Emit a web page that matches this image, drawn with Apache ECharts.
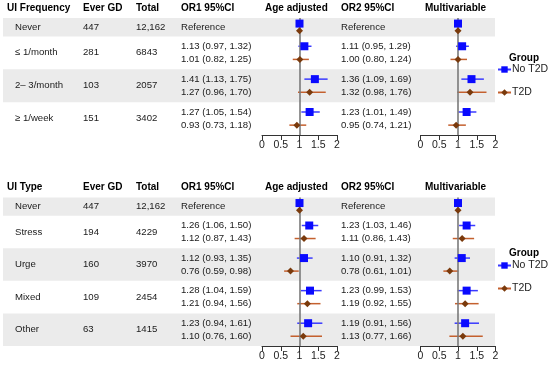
<!DOCTYPE html>
<html><head><meta charset="utf-8">
<script src="https://cdn.jsdelivr.net/npm/echarts/dist/echarts.min.js"></script>
<style>html,body{margin:0;padding:0;background:#fff}#c{width:550px;height:366px}</style>
</head><body><div id="c"></div>
<script>
// ---------- DATA ----------
const freqCats = ['Never', '≤ 1/month', '2– 3/month', '≥ 1/week'];
const freqEverGD = ['447', '281', '103', '151'];
const freqTotal = ['12,162', '6843', '2057', '3402'];
// [estimate, lower, upper]
const freqOR1NoT2D = [[1, null, null], [1.13, 0.97, 1.32], [1.41, 1.13, 1.75], [1.27, 1.05, 1.54]];
const freqOR1T2D   = [[1, null, null], [1.01, 0.82, 1.25], [1.27, 0.96, 1.70], [0.93, 0.73, 1.18]];
const freqOR2NoT2D = [[1, null, null], [1.11, 0.95, 1.29], [1.36, 1.09, 1.69], [1.23, 1.01, 1.49]];
const freqOR2T2D   = [[1, null, null], [1.00, 0.80, 1.24], [1.32, 0.98, 1.76], [0.95, 0.74, 1.21]];

const typeCats = ['Never', 'Stress', 'Urge', 'Mixed', 'Other'];
const typeEverGD = ['447', '194', '160', '109', '63'];
const typeTotal = ['12,162', '4229', '3970', '2454', '1415'];
const typeOR1NoT2D = [[1, null, null], [1.26, 1.06, 1.50], [1.12, 0.93, 1.35], [1.28, 1.04, 1.59], [1.23, 0.94, 1.61]];
const typeOR1T2D   = [[1, null, null], [1.12, 0.87, 1.43], [0.76, 0.59, 0.98], [1.21, 0.94, 1.56], [1.10, 0.76, 1.60]];
const typeOR2NoT2D = [[1, null, null], [1.23, 1.03, 1.46], [1.10, 0.91, 1.32], [1.23, 0.99, 1.53], [1.19, 0.91, 1.56]];
const typeOR2T2D   = [[1, null, null], [1.11, 0.86, 1.43], [0.78, 0.61, 1.01], [1.19, 0.92, 1.55], [1.13, 0.77, 1.66]];

const xTickMin = 0, xTickMax = 2, xTickStep = 0.5;
const groupNames = ['No T2D', 'T2D'];
const headerCols = ['Ever GD', 'Total', 'OR1 95%CI', 'Age adjusted', 'OR2 95%CI', 'Multivariable'];

// ---------- STYLE / LAYOUT ----------
const BLUE = '#0a0aff', BLUE_LINE = '#3a3aff';
const BROWN = '#7a3a0c', BROWN_LINE = '#c4602e';
const BAND = '#ebebeb';
const FONT = 'Liberation Sans, Arial, sans-serif';
const NEVER_H = 0.56;
function rowCenter(i) { return i === 0 ? NEVER_H / 2 : NEVER_H + (i - 1) + 0.5; }
function rowBounds(i) { return i === 0 ? [0, NEVER_H] : [NEVER_H + i - 1, NEVER_H + i]; }
function yPos(i, sign) { return rowCenter(i) + sign * (i === 0 ? 0.11 : 0.2); }
function fmt(d) { return d[0].toFixed(2) + ' (' + d[1].toFixed(2) + ', ' + d[2].toFixed(2) + ')'; }

const panels = [
  { title: 'UI Frequency', cats: freqCats, ever: freqEverGD, total: freqTotal,
    or1No: freqOR1NoT2D, or1T: freqOR1T2D, or2No: freqOR2NoT2D, or2T: freqOR2T2D,
    gridTop: 18, gridH: 117, headerY: 8, groupY: 58, legendTop: 64 },
  { title: 'UI Type', cats: typeCats, ever: typeEverGD, total: typeTotal,
    or1No: typeOR1NoT2D, or1T: typeOR1T2D, or2No: typeOR2NoT2D, or2T: typeOR2T2D,
    gridTop: 197.5, gridH: 148.5, headerY: 187, groupY: 253, legendTop: 260 }
];
const plotLefts = [262, 420.5];
const PLOT_W = 75;

const grids = [], xAxes = [], yAxes = [], series = [];
panels.forEach((p, pi) => {
  const units = NEVER_H + p.cats.length - 1;
  [[p.or1No, p.or1T], [p.or2No, p.or2T]].forEach((pair, k) => {
    const gi = grids.length;
    grids.push({ left: plotLefts[k], top: p.gridTop, width: PLOT_W, height: p.gridH });
    xAxes.push({
      type: 'value', gridIndex: gi, min: xTickMin, max: xTickMax, interval: xTickStep,
      axisLine: { show: true, onZero: false, lineStyle: { color: '#333', width: 1 } },
      axisTick: { show: true, length: 5, lineStyle: { color: '#333' } },
      axisLabel: { fontSize: 10.5, color: '#222', margin: 5, fontFamily: FONT,
        formatter: v => String(v) },
      splitLine: { show: false }
    });
    yAxes.push({ type: 'value', gridIndex: gi, min: 0, max: units, inverse: true, show: false });
    const specs = [
      { data: pair[0], sign: -1, col: BLUE, line: BLUE_LINE, sym: 'rect', size: 8 },
      { data: pair[1], sign: 1, col: BROWN, line: BROWN_LINE, sym: 'diamond', size: 7 }
    ];
    specs.forEach((s, si) => {
      const ci = {
        type: 'custom', xAxisIndex: gi, yAxisIndex: gi, silent: true, z: 3,
        data: s.data.map((d, i) => [d[1], d[2], yPos(i, s.sign)]).filter(d => d[0] != null),
        encode: { x: [0, 1], y: 2 },
        renderItem: (params, api) => {
          const a = api.coord([api.value(0), api.value(2)]);
          const b = api.coord([api.value(1), api.value(2)]);
          return { type: 'line', shape: { x1: a[0], y1: a[1], x2: b[0], y2: b[1] },
            style: { stroke: s.line, lineWidth: 1.5 } };
        }
      };
      if (si === 0) {
        ci.z = 2;
        ci.markLine = { silent: true, symbol: 'none', label: { show: false },
          lineStyle: { color: '#7a7a7a', width: 1.6, type: 'solid' },
          data: [{ xAxis: 1 }] };
      }
      series.push(ci);
      series.push({
        type: 'scatter', xAxisIndex: gi, yAxisIndex: gi, silent: true, z: 5,
        symbol: s.sym, symbolSize: s.size, itemStyle: { color: s.col, opacity: 1 },
        data: s.data.map((d, i) => [d[0], yPos(i, s.sign)])
      });
    });
  });
});
// legend-only series
series.push({ name: groupNames[0], type: 'line', data: [], xAxisIndex: 0, yAxisIndex: 0,
  symbol: 'rect', symbolSize: 8, itemStyle: { color: BLUE }, lineStyle: { color: BLUE_LINE, width: 1.5 } });
series.push({ name: groupNames[1], type: 'line', data: [], xAxisIndex: 0, yAxisIndex: 0,
  symbol: 'diamond', symbolSize: 7, itemStyle: { color: BROWN }, lineStyle: { color: BROWN_LINE, width: 1.5 } });

const legends = panels.map(p => ({
  data: groupNames, orient: 'vertical', left: 497, top: p.legendTop, itemGap: 12, padding: 0,
  itemWidth: 13, itemHeight: 8, selectedMode: false,
  textStyle: { fontSize: 10.5, color: '#222', fontFamily: FONT, padding: [0, 0, 0, -4] }
}));

const chart = echarts.init(document.getElementById('c'), null, { renderer: 'canvas' });
chart.setOption({
  animation: false, backgroundColor: '#fff',
  grid: grids, xAxis: xAxes, yAxis: yAxes, series: series, legend: legends
});

// ---------- TABLE TEXT & BANDS ----------
const g = [];
function txt(x, y, s, bold) {
  g.push({ type: 'text', x: x, y: y, z: 10, silent: true,
    style: { text: s, fill: bold ? '#000' : '#1a1a1a', textAlign: 'left', textVerticalAlign: 'middle',
      font: (bold ? 'bold ' : '') + (bold ? '10px ' : '9.6px ') + FONT } });
}
const colX = { cat: 15, title: 7, ever: 83, total: 136, or1: 181, age: 265, or2: 341, multi: 425 };
panels.forEach((p, pi) => {
  const gi = pi * 2;
  const py = v => chart.convertToPixel({ xAxisIndex: gi, yAxisIndex: gi }, [1, v])[1];
  // header
  txt(colX.title, p.headerY, p.title, true);
  [colX.ever, colX.total, colX.or1, colX.age, colX.or2, colX.multi].forEach((x, k) => txt(x, p.headerY, headerCols[k], true));
  // bands
  p.cats.forEach((c, i) => {
    if (i % 2 === 0) {
      const b = rowBounds(i);
      const y0 = py(b[0]), y1 = py(b[1]);
      g.push({ type: 'rect', z: -10, silent: true, shape: { x: 3, y: y0, width: 492, height: y1 - y0 },
        style: { fill: BAND } });
    }
    const yc = py(rowCenter(i));
    txt(colX.cat, yc, c, false);
    txt(colX.ever, yc, p.ever[i], false);
    txt(colX.total, yc, p.total[i], false);
    if (i === 0) {
      txt(colX.or1, yc, 'Reference', false);
      txt(colX.or2, yc, 'Reference', false);
    } else {
      txt(colX.or1, py(yPos(i, -1)), fmt(p.or1No[i]), false);
      txt(colX.or1, py(yPos(i, 1)), fmt(p.or1T[i]), false);
      txt(colX.or2, py(yPos(i, -1)), fmt(p.or2No[i]), false);
      txt(colX.or2, py(yPos(i, 1)), fmt(p.or2T[i]), false);
    }
  });
  txt(509, p.groupY, 'Group', true);
});
chart.setOption({ graphic: { elements: g } });
</script></body></html>
